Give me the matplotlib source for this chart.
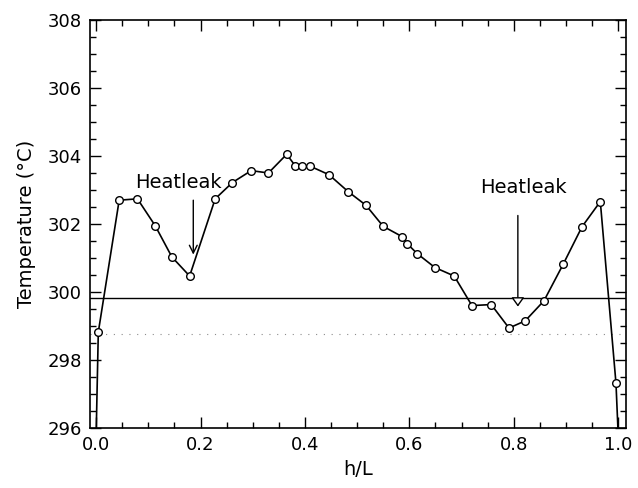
import matplotlib
matplotlib.use("Agg")
import matplotlib.pyplot as plt
from matplotlib.ticker import MultipleLocator

# Data
h_over_L = [0.004, 0.044, 0.079, 0.113, 0.145, 0.179, 0.228, 0.261, 0.297, 0.330,
            0.365, 0.381, 0.394, 0.410, 0.446, 0.483, 0.517, 0.550, 0.586, 0.596,
            0.615, 0.649, 0.686, 0.720, 0.757, 0.791, 0.822, 0.858, 0.895, 0.931,
            0.966, 0.996]
temperature = [298.82, 302.70, 302.74, 301.95, 301.03, 300.47, 302.74, 303.22, 303.57, 303.50,
               304.05, 303.72, 303.72, 303.70, 303.45, 302.95, 302.55, 301.93, 301.63, 301.42,
               301.13, 300.72, 300.47, 299.60, 299.63, 298.94, 299.15, 299.74, 300.82, 301.92,
               302.66, 297.32]
# wall end points (line only, reaching the bottom of the axes)
end_x = [0.0, 1.0]
end_y = [295.9, 295.9]

reference_level = 299.83
dotted_level = 298.76

xticks = [0.0, 0.2, 0.4, 0.6, 0.8, 1.0]
xtick_labels = ["0.0", "0.2", "0.4", "0.6", "0.8", "1.0"]
yticks = [296, 298, 300, 302, 304, 306, 308]

heatleak_x = [0.186, 0.808]

fig = plt.figure(figsize=(6.38, 4.88), dpi=100)
ax = fig.add_axes([0.141, 0.123, 0.840, 0.836])

line_x = [end_x[0]] + h_over_L + [end_x[1]]
line_y = [end_y[0]] + temperature + [end_y[1]]
ax.plot(line_x, line_y, color="black", lw=1.2, zorder=3)
ax.plot(h_over_L, temperature, linestyle="none", marker="o", markersize=5.5,
        markerfacecolor="white", markeredgecolor="black", markeredgewidth=1.0, zorder=4)

ax.axhline(reference_level, color="black", lw=1.0, zorder=2)
ax.axhline(dotted_level, color="0.55", lw=0.8, linestyle=(0, (1, 6)), zorder=1)

# Heatleak annotations
ax.annotate("", xy=(heatleak_x[0], 301.1), xytext=(heatleak_x[0], 302.7),
            arrowprops=dict(arrowstyle="->", edgecolor="black", lw=1.0,
                            mutation_scale=14, shrinkA=0, shrinkB=0))
ax.text(0.157, 303.22, "Heatleak", ha="center", va="center", fontsize=14)
ax.annotate("", xy=(heatleak_x[1], 299.57), xytext=(heatleak_x[1], 302.25),
            arrowprops=dict(arrowstyle="-|>,head_length=0.42,head_width=0.3",
                            edgecolor="black", facecolor="white", lw=1.0,
                            mutation_scale=13, shrinkA=0, shrinkB=0), zorder=5)
ax.text(0.818, 303.08, "Heatleak", ha="center", va="center", fontsize=14)

ax.set_xlim(-0.012, 1.015)
ax.set_ylim(296, 308)
ax.set_xticks(xticks)
ax.set_xticklabels(xtick_labels)
ax.set_yticks(yticks)
ax.xaxis.set_minor_locator(MultipleLocator(0.05))
ax.yaxis.set_minor_locator(MultipleLocator(0.5))
ax.tick_params(which="both", direction="in", top=True, right=True,
               labelsize=13, width=1.0, color="black")
ax.tick_params(which="major", length=8, pad=6)
ax.tick_params(which="minor", length=4.5)
for s in ax.spines.values():
    s.set_linewidth(1.2)

ax.set_xlabel("h/L", fontsize=14, labelpad=4)
ax.set_ylabel("Temperature (°C)", fontsize=14, labelpad=8)

fig.savefig("out.png", dpi=100)
